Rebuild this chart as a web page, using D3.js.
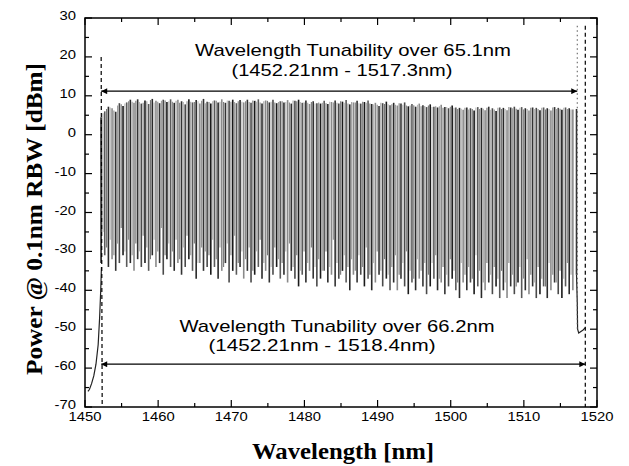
<!DOCTYPE html>
<html><head><meta charset="utf-8">
<script src="https://cdn.jsdelivr.net/npm/d3@7"></script>
<style>body{margin:0;background:#fff}svg{display:block}</style>
</head><body><svg id="c" width="629" height="466"></svg>
<script>
// ---- data ----
const wavelengths = [
1452.2,1452.7,1453.2,1453.7,1454.2,1454.7,1455.2,1455.7,1456.2,1456.7,
1457.2,1457.7,1458.2,1458.7,1459.2,1459.7,1460.2,1460.7,1461.2,1461.7,
1462.2,1462.7,1463.2,1463.7,1464.2,1464.7,1465.2,1465.7,1466.2,1466.7,
1467.2,1467.7,1468.2,1468.7,1469.2,1469.7,1470.2,1470.7,1471.2,1471.7,
1472.2,1472.7,1473.2,1473.7,1474.2,1474.7,1475.2,1475.7,1476.2,1476.7,
1477.2,1477.7,1478.2,1478.7,1479.2,1479.7,1480.2,1480.7,1481.2,1481.7,
1482.2,1482.7,1483.2,1483.7,1484.2,1484.7,1485.2,1485.7,1486.2,1486.7,
1487.2,1487.7,1488.2,1488.7,1489.2,1489.7,1490.2,1490.7,1491.2,1491.7,
1492.2,1492.7,1493.2,1493.7,1494.2,1494.7,1495.2,1495.7,1496.2,1496.7,
1497.2,1497.7,1498.2,1498.7,1499.2,1499.7,1500.2,1500.7,1501.2,1501.7,
1502.2,1502.7,1503.2,1503.7,1504.2,1504.7,1505.2,1505.7,1506.2,1506.7,
1507.2,1507.7,1508.2,1508.7,1509.2,1509.7,1510.2,1510.7,1511.2,1511.7,
1512.2,1512.7,1513.2,1513.7,1514.2,1514.7,1515.2,1515.7,1516.2,1516.7,
1517.2];
const peakPower = [
4.5,6.0,7.2,6.8,5.9,8.1,7.4,8.3,9.0,8.2,
9.1,8.0,8.8,7.9,9.2,8.7,8.1,9.0,8.4,9.1,
8.2,9.0,8.6,7.8,9.1,8.3,8.9,8.0,9.2,8.5,
8.0,8.8,8.3,9.1,8.2,8.7,9.0,8.1,8.9,8.3,
9.0,8.2,8.7,9.1,8.0,8.8,8.3,9.0,8.1,8.6,
8.3,8.9,8.0,8.7,9.0,8.2,8.8,7.9,8.6,8.1,
8.0,8.7,7.9,8.4,8.8,8.0,8.5,8.9,7.8,8.3,
8.7,8.0,8.4,8.8,7.9,8.2,7.4,8.1,8.5,7.6,
8.2,7.5,8.0,8.3,7.3,7.9,7.2,8.0,7.6,7.1,
7.8,7.2,7.0,7.7,7.1,6.8,7.5,7.0,6.9,6.4,
7.0,6.8,6.2,7.1,6.9,6.3,7.2,6.8,6.1,7.0,
6.9,6.3,7.0,7.2,6.4,7.1,6.8,6.2,7.0,6.9,
6.3,7.0,6.8,6.2,7.1,6.9,6.4,7.0,6.8,6.5,
6.6];
const floorPower = [
-33,-31,-34,-32,-35,-33,-31,-34,-33,-35,
-32,-34,-33,-35,-31,-34,-33,-36,-32,-34,
-35,-33,-36,-34,-32,-35,-37,-33,-35,-34,
-36,-34,-37,-35,-33,-38,-35,-36,-34,-37,
-35,-38,-36,-34,-37,-35,-38,-36,-34,-37,
-36,-38,-35,-37,-39,-36,-38,-35,-37,-39,
-37,-35,-38,-36,-39,-37,-35,-38,-40,-36,
-38,-36,-39,-37,-40,-38,-36,-39,-37,-40,
-38,-40,-37,-39,-41,-38,-40,-37,-39,-41,
-39,-37,-40,-38,-41,-39,-37,-40,-42,-38,
-40,-38,-41,-39,-42,-40,-38,-41,-39,-42,
-40,-42,-39,-41,-38,-42,-40,-41,-39,-42,
-41,-39,-42,-40,-38,-41,-42,-39,-41,-40,
-36];
// secondary (interleaved) traces, between the main lines
const midPeakPower = [
5.5,6.6,7.0,6.2,7.5,7.8,8.0,8.6,8.5,
8.7,8.4,8.2,8.6,8.9,8.3,8.5,8.7,8.8,8.6,
8.5,8.7,8.2,8.4,8.6,8.5,8.4,8.6,8.7,8.1,
8.4,8.6,8.7,8.5,8.4,8.8,8.5,8.4,8.6,8.5,
8.6,8.4,8.8,8.5,8.3,8.6,8.7,8.5,8.3,8.4,
8.6,8.4,8.3,8.8,8.6,8.4,8.3,8.2,8.4,8.0,
8.3,8.2,8.1,8.5,8.3,8.2,8.6,8.2,8.0,8.4,
8.3,8.1,8.5,8.2,8.0,7.8,7.7,8.2,7.9,7.8,
7.8,7.7,8.1,7.7,7.5,7.5,7.6,7.7,7.3,7.4,
7.5,7.1,7.3,7.3,6.9,7.1,7.2,6.9,6.6,6.7,
6.9,6.5,6.6,7.0,6.6,6.7,6.9,6.4,6.5,6.9,
6.6,6.6,7.1,6.8,6.7,6.9,6.5,6.6,6.9,6.6,
6.6,6.9,6.5,6.6,7.0,6.6,6.7,6.9,6.6,6.5];
const midFloorPower = [
-25,-29,-27,-31,-28,-24,-30,-27,-31,
-28,-30,-26,-29,-32,-27,-30,-24,-31,-28,
-30,-27,-32,-29,-26,-31,-28,-33,-29,-30,
-31,-27,-32,-29,-34,-28,-31,-26,-33,-30,
-32,-29,-35,-30,-27,-33,-31,-34,-29,-32,
-33,-30,-28,-34,-31,-35,-30,-33,-29,-34,
-32,-35,-30,-34,-27,-33,-36,-31,-34,-32,
-35,-31,-34,-29,-36,-33,-30,-35,-32,-36,
-34,-31,-36,-33,-30,-35,-37,-32,-35,-33,
-36,-33,-31,-37,-34,-36,-32,-35,-38,-33,
-36,-34,-37,-31,-35,-38,-33,-36,-34,-37,
-35,-38,-33,-36,-39,-34,-37,-32,-36,-38,
-34,-37,-39,-33,-36,-38,-35,-37,-33,-36];
const leftEdgeWl = [1450.4,1450.6,1450.9,1451.2,1451.5,1451.8,1452.0,1452.15,1452.25];
const leftEdgePw = [-66,-65.5,-64,-62,-59,-54,-47,-40,-34];
const rightEdgeWl = [1517.2,1517.3,1517.35,1517.5,1517.8,1518.1,1518.4];
const rightEdgePw = [-36,-43,-50,-51,-50.6,-50.2,-49.6];
const xTicks = [1450,1460,1470,1480,1490,1500,1510,1520];
const yTicks = [-70,-60,-50,-40,-30,-20,-10,0,10,20,30];
const rangeTop = {from:1452.21, to:1517.3, level:11.2,
  line1:"Wavelength Tunability over 65.1nm", line2:"(1452.21nm - 1517.3nm)"};
const rangeBottom = {from:1452.21, to:1518.4, level:-59,
  line1:"Wavelength Tunability over 66.2nm", line2:"(1452.21nm - 1518.4nm)"};
const xTitle = "Wavelength [nm]";
const yTitle = "Power @ 0.1nm RBW [dBm]";

// ---- drawing ----
const svg = d3.select("#c");
const L=85, R=597, T=18, B=407;
const x = d3.scaleLinear().domain([1450,1520]).range([L,R]);
const y = d3.scaleLinear().domain([-70,30]).range([B,T]);

// secondary traces (drawn first, grey)
const midWl = wavelengths.slice(0,-1).map((d,i)=>(d+wavelengths[i+1])/2);
const midShades = ["#a0a0a0","#777","#b8b8b8","#8a8a8a"];
svg.append("g").selectAll("line").data(midWl).join("line")
  .attr("x1",d=>x(d)).attr("x2",d=>x(d))
  .attr("y1",(d,i)=>y(midFloorPower[i])).attr("y2",(d,i)=>y(midPeakPower[i]))
  .attr("stroke",(d,i)=>midShades[i%midShades.length]).attr("stroke-width",1.1);

// main spectral lines
const shades = ["#1a1a1a","#5a5a5a","#2a2a2a","#8a8a8a","#333","#4a4a4a"];
svg.append("g").selectAll("line").data(wavelengths).join("line")
  .attr("x1",d=>x(d)).attr("x2",d=>x(d))
  .attr("y1",(d,i)=>y(floorPower[i])).attr("y2",(d,i)=>y(peakPower[i]))
  .attr("stroke",(d,i)=>shades[i%shades.length]).attr("stroke-width",1.6);

const edgeLine = d3.line().x(d=>x(d[0])).y(d=>y(d[1]));
svg.append("path").attr("d",edgeLine(leftEdgeWl.map((w,i)=>[w,leftEdgePw[i]])))
  .attr("fill","none").attr("stroke","#222").attr("stroke-width",1.2);
svg.append("path").attr("d",edgeLine(rightEdgeWl.map((w,i)=>[w,rightEdgePw[i]])))
  .attr("fill","none").attr("stroke","#222").attr("stroke-width",1.2);

// reference vertical lines
svg.append("line").attr("x1",x(1452.21)).attr("x2",x(1452.35)).attr("y1",y(20)).attr("y2",B)
  .attr("stroke","#000").attr("stroke-width",1.2).attr("stroke-dasharray","4,3");
svg.append("line").attr("x1",x(1518.4)).attr("x2",x(1518.4)).attr("y1",y(28)).attr("y2",B)
  .attr("stroke","#000").attr("stroke-width",1.2).attr("stroke-dasharray","4,3");
svg.append("line").attr("x1",x(1517.3)).attr("x2",x(1517.3)).attr("y1",y(28)).attr("y2",y(-50))
  .attr("stroke","#555").attr("stroke-width",1).attr("stroke-dasharray","1.5,3");

// arrows
const defs = svg.append("defs");
defs.append("marker").attr("id","ah").attr("viewBox","0 0 10 10").attr("refX",10).attr("refY",5)
  .attr("markerWidth",9).attr("markerHeight",6).attr("markerUnits","userSpaceOnUse").attr("orient","auto-start-reverse")
  .append("path").attr("d","M0,0L10,5L0,10z").attr("fill","#000");
[rangeTop,rangeBottom].forEach(r=>{
  svg.append("line").attr("x1",x(r.from)).attr("x2",x(r.to)).attr("y1",y(r.level)).attr("y2",y(r.level))
    .attr("stroke","#000").attr("stroke-width",1.3)
    .attr("marker-start","url(#ah)").attr("marker-end","url(#ah)");
});

// annotation texts
function stretched(txt, cx, by, w, size, fam, weight){
  svg.append("text").attr("x",cx).attr("y",by).attr("text-anchor","middle")
    .attr("font-family",fam).attr("font-size",size).attr("font-weight",weight||"normal")
    .attr("textLength",w).attr("lengthAdjust","spacingAndGlyphs").text(txt);
}
const sans = "Liberation Sans, Arial, sans-serif";
stretched(rangeTop.line1, 353, 56, 316, 17, sans);
stretched(rangeTop.line2, 342, 76, 221, 17, sans);
stretched(rangeBottom.line1, 337, 332, 315, 17, sans);
stretched(rangeBottom.line2, 322, 351, 227, 17, sans);

// frame
svg.append("rect").attr("x",L).attr("y",T).attr("width",R-L).attr("height",B-T)
  .attr("fill","none").attr("stroke","#000").attr("stroke-width",1.5);

// ticks (inward, mirrored)
const xMinor = d3.range(1455,1520,10), yMinor = d3.range(-65,30,10);
const tk = svg.append("g").attr("stroke","#000").attr("stroke-width",1.2);
xTicks.concat(xMinor).forEach(v=>{
  const len = xTicks.includes(v)?7:4;
  tk.append("line").attr("x1",x(v)).attr("x2",x(v)).attr("y1",B).attr("y2",B-len);
  tk.append("line").attr("x1",x(v)).attr("x2",x(v)).attr("y1",T).attr("y2",T+len);
});
yTicks.concat(yMinor).forEach(v=>{
  const len = yTicks.includes(v)?7:4;
  tk.append("line").attr("x1",L).attr("x2",L+len).attr("y1",y(v)).attr("y2",y(v));
  tk.append("line").attr("x1",R).attr("x2",R-len).attr("y1",y(v)).attr("y2",y(v));
});

// tick labels
svg.append("g").selectAll("text").data(xTicks).join("text")
  .attr("transform",d=>`translate(${x(d)},421) scale(1.14,1)`).attr("text-anchor","middle")
  .attr("font-family",sans).attr("font-size",13).text(d=>d);
svg.append("g").selectAll("text").data(yTicks).join("text")
  .attr("transform",d=>`translate(76,${y(d)+2}) scale(1.14,1)`).attr("text-anchor","end")
  .attr("font-family",sans).attr("font-size",13).text(d=>d);

// axis titles
const serif = "Liberation Serif, Times New Roman, serif";
svg.append("text").attr("x",343).attr("y",459).attr("text-anchor","middle")
  .attr("font-family",serif).attr("font-weight","bold").attr("font-size",23)
  .attr("textLength",182).attr("lengthAdjust","spacingAndGlyphs").text(xTitle);
svg.append("text").attr("transform","translate(42,219) rotate(-90)").attr("text-anchor","middle")
  .attr("font-family",serif).attr("font-weight","bold").attr("font-size",23)
  .attr("textLength",312).attr("lengthAdjust","spacingAndGlyphs").text(yTitle);
</script></body></html>
